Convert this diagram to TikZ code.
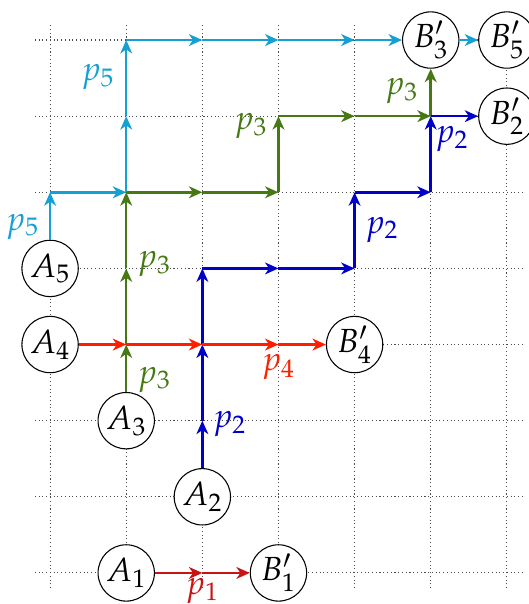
\documentclass[tikz,border=0pt]{standalone}
\usepackage{mathpazo}
\usetikzlibrary{arrows.meta}
\definecolor{cPa}{RGB}{200,20,20}
\definecolor{cPb}{RGB}{0,0,200}
\definecolor{cPc}{RGB}{70,120,20}
\definecolor{cPd}{RGB}{255,30,0}
\definecolor{cPe}{RGB}{20,160,210}
\begin{document}
\begin{tikzpicture}[
  font=\fontsize{12.5}{14}\selectfont,
  pt/.style={circle,draw,thin,fill=white,minimum size=0.74cm,inner sep=0pt},
  seg/.style={line width=0.95pt,-{Stealth[length=5pt,width=4.4pt,inset=1.5pt]}},
  lbl/.style={inner sep=0pt}
]
\useasboundingbox (-0.658,-0.408) rectangle (6.29,7.526);
\draw[densely dotted, black!70] (-0.2,-0.2) grid (6.2,7.2);

\foreach \x/\y in {2/0,2/2,2/3,2/4,3/4,4/4,4/5,5/5,5/6,1/3,1/4,1/5,2/5,3/5,3/6,4/6,3/3,0/5,1/6,1/7,2/7,3/7,4/7}
  \coordinate (c\x\y) at (\x,\y);

\node[pt] (A1) at (1,0) {$A_1$};
\node[pt] (B1) at (3,0) {$B_1'$};
\node[pt] (A2) at (2,1) {$A_2$};
\node[pt] (A3) at (1,2) {$A_3$};
\node[pt] (A4) at (0,3) {$A_4$};
\node[pt] (B4) at (4,3) {$B_4'$};
\node[pt] (A5) at (0,4) {$A_5$};
\node[pt] (B3) at (5,7) {$B_3'$};
\node[pt] (B5) at (6,7) {$B_5'$};
\node[pt] (B2) at (6,6) {$B_2'$};

% p1
\draw[seg,cPa] (A1) -- (c20);
\draw[seg,cPa] (c20) -- (B1);
% p3
\draw[seg,cPc] (A3) -- (c13);
\draw[seg,cPc] (c13) -- (c14);
\draw[seg,cPc] (c14) -- (c15);
\draw[seg,cPc] (c15) -- (c25);
\draw[seg,cPc] (c25) -- (c35);
\draw[seg,cPc] (c35) -- (c36);
\draw[seg,cPc] (c36) -- (c46);
\draw[seg,cPc] (c46) -- (c56);
\draw[seg,cPc] (c56) -- (B3);
% p2
\draw[seg,cPb] (A2) -- (c22);
\draw[seg,cPb] (c22) -- (c23);
\draw[seg,cPb] (c23) -- (c24);
\draw[seg,cPb] (c24) -- (c34);
\draw[seg,cPb] (c34) -- (c44);
\draw[seg,cPb] (c44) -- (c45);
\draw[seg,cPb] (c45) -- (c55);
\draw[seg,cPb] (c55) -- (c56);
\draw[seg,cPb] (c56) -- (B2);
% p4
\draw[seg,cPd] (A4) -- (c13);
\draw[seg,cPd] (c13) -- (c23);
\draw[seg,cPd] (c23) -- (c33);
\draw[seg,cPd] (c33) -- (B4);
% p5
\draw[seg,cPe] (A5) -- (c05);
\draw[seg,cPe] (c05) -- (c15);
\draw[seg,cPe] (c15) -- (c16);
\draw[seg,cPe] (c16) -- (c17);
\draw[seg,cPe] (c17) -- (c27);
\draw[seg,cPe] (c27) -- (c37);
\draw[seg,cPe] (c37) -- (c47);
\draw[seg,cPe] (c47) -- (B3);
\draw[seg,cPe] (B3) -- (B5);

% labels
\node[lbl,cPa] (l1) at (2,-0.235) {$p_1$};
\node[lbl,cPb] (l2a) at (2.36,1.95) {$p_2$};
\node[lbl,cPb] (l2b) at (4.36,4.51) {$p_2$};
\node[lbl,cPb] (l2c) at (5.28,5.70) {$p_2$};
\node[lbl,cPc] (l3a) at (1.37,2.54) {$p_3$};
\node[lbl,cPc] (l3b) at (1.37,4.06) {$p_3$};
\node[lbl,cPc] (l3c) at (2.64,5.87) {$p_3$};
\node[lbl,cPc] (l3d) at (4.62,6.33) {$p_3$};
\node[lbl,cPd] (l4) at (3,2.70) {$p_4$};
\node[lbl,cPe] (l5a) at (-0.36,4.55) {$p_5$};
\node[lbl,cPe] (l5b) at (0.63,6.51) {$p_5$};
\end{tikzpicture}
\end{document}
